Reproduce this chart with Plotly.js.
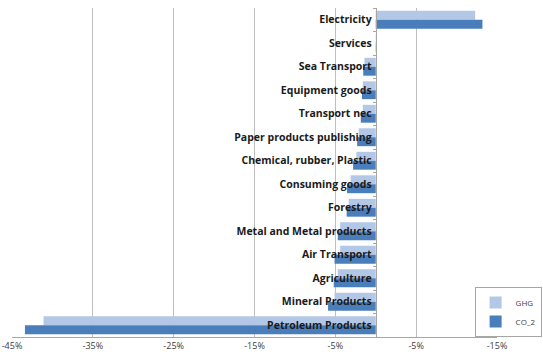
<!DOCTYPE html>
<html>
<head>
<meta charset="utf-8">
<script src="https://cdn.plot.ly/plotly-3.0.1.min.js"></script>
<style>
  html, body { margin: 0; padding: 0; background: #ffffff; }
  #chart { width: 543px; height: 362px; }
</style>
</head>
<body>
<div id="chart"></div>
<script>
// Sectors, listed top to bottom as they appear on the chart
const sectors = [
  "Electricity", "Services", "Sea Transport", "Equipment goods", "Transport nec",
  "Paper products publishing", "Chemical, rubber, Plastic", "Consuming goods",
  "Forestry", "Metal and Metal products", "Air Transport", "Agriculture",
  "Mineral Products", "Petroleum Products"
];

// Percentage change per sector
const ghgValues = [12.3, 0.1, -1.4, -1.6, -1.6, -2.1, -2.4, -3.1, -3.35, -4.4, -4.4, -4.7, -5.1, -41.1];
const co2Values = [13.2, 0.15, -1.55, -1.7, -1.85, -2.3, -2.8, -3.55, -3.6, -4.7, -5.1, -5.2, -5.9, -43.4];

// X-axis ticks and the labels printed under them
const xTickVals = [-45, -35, -25, -15, -5, 5, 15];
const xTickText = ["-45%", "-35%", "-25%", "-15%", "-5%", "-5%", "-15%"];

const traces = [
  {
    type: "bar", orientation: "h", name: "GHG",
    y: sectors, x: ghgValues,
    marker: { color: "#b3c7e6" }
  },
  {
    type: "bar", orientation: "h", name: "CO_2",
    y: sectors, x: co2Values,
    marker: { color: "#4a7ebb" }
  }
];

const layout = {
  width: 543, height: 362,
  margin: { l: 12, r: 46, t: 8, b: 25, autoexpand: false },
  paper_bgcolor: "#ffffff", plot_bgcolor: "#ffffff",
  barmode: "group", bargap: 0.24, bargroupgap: 0,
  showlegend: true,
  legend: {
    x: 1.092, xanchor: "right", y: 0, yanchor: "bottom",
    bordercolor: "#a6a6a6", borderwidth: 1, bgcolor: "#ffffff",
    font: { family: "'Open Sans', sans-serif", size: 8, color: "#404040" },
    itemwidth: 30, tracegroupgap: 0
  },
  xaxis: {
    range: [-45, 15], tickmode: "array", tickvals: xTickVals, ticktext: xTickText,
    showgrid: true, gridcolor: "#bfbfbf", gridwidth: 1,
    zeroline: false, showline: true, linecolor: "#a6a6a6", linewidth: 1,
    ticks: "", ticklabeloverflow: "allow", automargin: false,
    tickfont: { family: "'Open Sans', sans-serif", size: 9, color: "#404040" }
  },
  yaxis: {
    type: "category", autorange: "reversed",
    anchor: "free", position: 0.75, side: "left", automargin: false,
    showline: true, linecolor: "#a6a6a6", linewidth: 1,
    ticks: "outside", tickson: "boundaries", ticklen: 3, tickcolor: "#a6a6a6",
    ticklabelstandoff: 2,
    showgrid: false, zeroline: false,
    tickfont: { family: "'Open Sans', sans-serif", size: 10.5, color: "#1a1a1a", weight: "bold" }
  }
};

Plotly.newPlot("chart", traces, layout, { displayModeBar: false, staticPlot: true });
</script>
</body>
</html>
